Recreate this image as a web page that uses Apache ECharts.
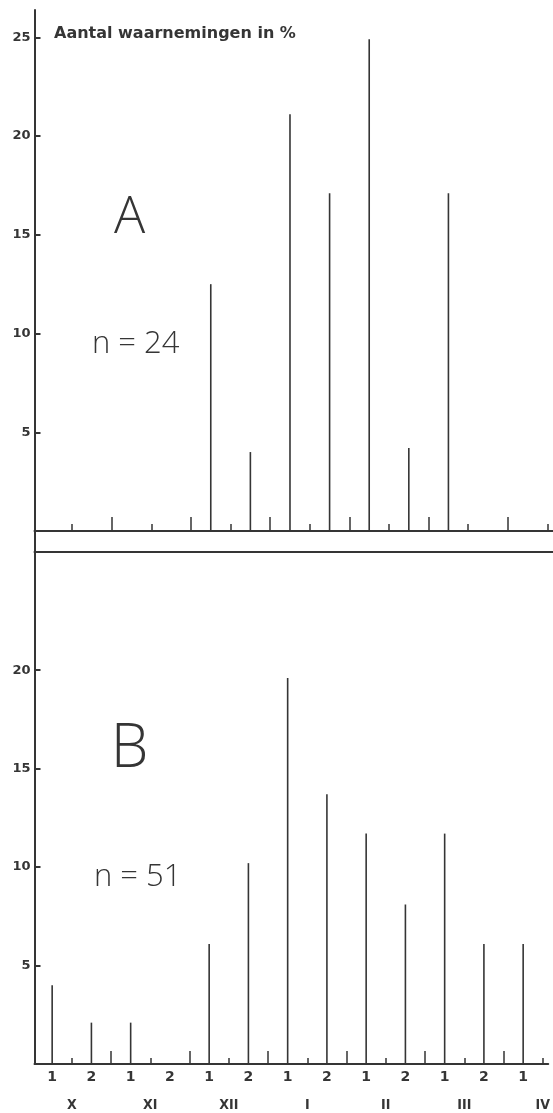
<!DOCTYPE html>
<html><head><meta charset="utf-8">
<script src="https://cdn.jsdelivr.net/npm/echarts@6/dist/echarts.min.js"></script>
<style>html,body{margin:0;padding:0;background:#fff}#c{width:553px;height:1113px}</style>
</head><body><div id="c"></div>
<script>
// half-month positions: X-1, X-2, XI-1, ... IV-1
const halfLabels = ['1','2','1','2','1','2','1','2','1','2','1','2','1'];
const monthLabels = ['X','XI','XII','I','II','III','IV'];
const valuesA = [0, 0, 0, 0, 12.5, 4.0, 21.1, 17.1, 24.9, 4.2, 17.1, 0, 0];
const valuesB = [4.0, 2.1, 2.1, 0, 6.1, 10.2, 19.6, 13.7, 11.7, 8.1, 11.7, 6.1, 6.1];
const yTicksA = [5, 10, 15, 20, 25];
const yTicksB = [5, 10, 15, 20];
const titleText = 'Aantal waarnemingen in %';
const panelA = 'A', panelB = 'B';
const nA = 'n = 24', nB = 'n = 51';

const halfPos = halfLabels.map((_, i) => i);
const midPos = monthLabels.map((_, i) => 2 * i + 0.5);
const boundPos = monthLabels.slice(1).map((_, i) => 2 * i + 1.5);

const INK = '#353535';
const X_MIN = -0.45, X_MAX = 12.64;
const lineSt = { color: INK, width: 2 };
const hiddenLine = { color: 'rgba(0,0,0,0)', width: 0.01 };

function xBase(grid, extra) {
  return Object.assign({
    type: 'value', gridIndex: grid, min: X_MIN, max: X_MAX, position: 'bottom', offset: 0,
    splitLine: { show: false },
    axisLine: { show: false, onZero: false, lineStyle: lineSt },
    axisTick: { show: false },
    axisLabel: { show: false }
  }, extra);
}

const chart = echarts.init(document.getElementById('c'));
chart.setOption({
  animation: false,
  backgroundColor: '#ffffff',
  grid: [
    { left: 34.5, right: 0, top: 10, height: 542 },
    { left: 34.5, right: 0, top: 552, height: 512 }
  ],
  xAxis: [
    // A: baseline on zero with short mid-month ticks
    xBase(0, { axisLine: { show: true, onZero: true, onZeroAxisIndex: 0, lineStyle: lineSt },
      axisTick: { show: true, inside: true, length: 7, customValues: midPos, lineStyle: { color: INK, width: 1.5 } } }),
    // A: long ticks at month boundaries
    xBase(0, { axisLine: { show: true, onZero: true, onZeroAxisIndex: 0, lineStyle: hiddenLine },
      axisTick: { show: true, inside: true, length: 14, customValues: boundPos, lineStyle: { color: INK, width: 1.5 } } }),
    // A: lower frame line
    xBase(0, { axisLine: { show: true, onZero: false, lineStyle: lineSt } }),
    // B: baseline, mid-month short ticks and month labels
    xBase(1, { axisLine: { show: true, onZero: false, lineStyle: lineSt },
      axisTick: { show: true, inside: true, length: 6, customValues: midPos, lineStyle: { color: INK, width: 1.5 } },
      axisLabel: { show: true, customValues: midPos, margin: 34,
        formatter: v => monthLabels[Math.round((v - 0.5) / 2)],
        color: INK, fontFamily: '"DejaVu Sans Condensed"', fontWeight: 'bold', fontSize: 14 } }),
    // B: long boundary ticks and half-month labels
    xBase(1, { axisLine: { show: false, onZero: false },
      axisTick: { show: true, inside: true, length: 13, customValues: boundPos, lineStyle: { color: INK, width: 1.5 } },
      axisLabel: { show: true, customValues: halfPos, margin: 6,
        formatter: v => halfLabels[Math.round(v)],
        color: INK, fontFamily: '"DejaVu Sans"', fontWeight: 'bold', fontSize: 14 } })
  ],
  yAxis: [
    { type: 'value', gridIndex: 0, min: -1.06, max: 26.38, position: 'left',
      splitLine: { show: false },
      axisLine: { show: true, onZero: false, lineStyle: lineSt },
      axisTick: { show: true, inside: true, length: 6, customValues: yTicksA, lineStyle: { color: INK, width: 2 } },
      axisLabel: { customValues: yTicksA, margin: 4, color: INK, fontFamily: '"DejaVu Sans"', fontWeight: 'bold', fontSize: 13 } },
    { type: 'value', gridIndex: 1, min: 0, max: 26, position: 'left',
      splitLine: { show: false },
      axisLine: { show: true, onZero: false, lineStyle: lineSt },
      axisTick: { show: true, inside: true, length: 6, customValues: yTicksB, lineStyle: { color: INK, width: 2 } },
      axisLabel: { customValues: yTicksB, margin: 4, color: INK, fontFamily: '"DejaVu Sans"', fontWeight: 'bold', fontSize: 13 } }
  ],
  series: [
    { type: 'bar', xAxisIndex: 0, yAxisIndex: 0, barWidth: 1.6,
      itemStyle: { color: INK },
      data: valuesA.map((v, i) => [i, v]) },
    { type: 'bar', xAxisIndex: 3, yAxisIndex: 1, barWidth: 1.6,
      itemStyle: { color: INK },
      data: valuesB.map((v, i) => [i, v]) }
  ],
  graphic: [
    { type: 'text', x: 54, y: 34, style: { text: titleText, fill: INK, font: 'bold 16px "DejaVu Sans"', verticalAlign: 'middle' } },
    { type: 'text', x: 129.5, y: 218, style: { text: panelA, fill: INK, font: '300 52px "Open Sans", Lato, sans-serif', align: 'center', verticalAlign: 'middle' } },
    { type: 'text', x: 129.5, y: 750, style: { text: panelB, fill: INK, font: '300 60px "Open Sans", Lato, sans-serif', align: 'center', verticalAlign: 'middle' } },
    { type: 'text', x: 92, y: 344, style: { text: nA, fill: INK, font: '300 31px "Open Sans", Lato, sans-serif', verticalAlign: 'middle' } },
    { type: 'text', x: 94, y: 877, style: { text: nB, fill: INK, font: '300 31px "Open Sans", Lato, sans-serif', verticalAlign: 'middle' } }
  ]
});
</script></body></html>
